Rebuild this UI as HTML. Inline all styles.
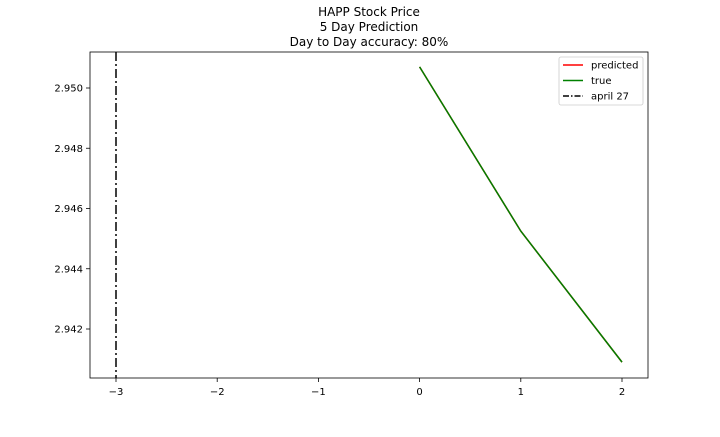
<!DOCTYPE html>
<html><head><meta charset="utf-8"><style>
body{margin:0;background:#fff;font-family:"Liberation Sans","DejaVu Sans",sans-serif;}
svg text{font-family:"DejaVu Sans","Liberation Sans",sans-serif;}
</style></head><body>
<svg id="chart" width="720" height="432">
<g font-size="12" text-anchor="middle" fill="#000">
<text x="369" y="16">HAPP Stock Price</text>
<text x="369" y="31">5 Day Prediction</text>
<text x="369" y="46">Day to Day accuracy: 80%</text>
</g>
<g id="plot"></g>
</svg>
<script>
const xTicks=[-3,-2,-1,0,1,2];
const yTicks=[2.942,2.944,2.946,2.948,2.950];
const days=[0,1,2];
const trueVals=[2.9507,2.94525,2.9409];
const predVals=[2.9507,2.94525,2.9409];
const markerDay=-3;
const L=90,R=648,T=52,B=378;
const X=v=>116+(v+3)*101.2;
const Y=v=>88+(2.950-v)*30125;
const ns="http://www.w3.org/2000/svg";
const g=document.getElementById('plot');
function mk(t,a){const e=document.createElementNS(ns,t);for(const k in a)e.setAttribute(k,a[k]);g.appendChild(e);return e;}
xTicks.forEach(v=>{
 const l=mk('line',{x1:X(v),x2:X(v),y1:B,y2:B+4,stroke:'#000','stroke-width':0.8});
 
 
 const t=mk('text',{x:X(v),y:B+17,'font-size':10,'text-anchor':'middle'});t.textContent=v<0?'\u2212'+(-v):v;
 
 
});
yTicks.forEach(v=>{
 const l=mk('line',{x1:L-4,x2:L,y1:Y(v),y2:Y(v),stroke:'#000','stroke-width':0.8});
 
 
 const t=mk('text',{x:L-7,y:Y(v)+3.5,'font-size':10,'text-anchor':'end'});t.textContent=v.toFixed(3);
 
 
});
const pp=mk('polyline',{points:days.map((d,i)=>X(d)+','+Y(predVals[i])).join(' '),fill:'none',stroke:'red','stroke-width':1.5});


const tp=mk('polyline',{points:days.map((d,i)=>X(d)+','+Y(trueVals[i])).join(' '),fill:'none',stroke:'green','stroke-width':1.5});


const vl=mk('line',{x1:X(markerDay),x2:X(markerDay),y1:T,y2:B,stroke:'#000','stroke-width':1.5,'stroke-dasharray':'9,3,2,3'});


const fr=mk('rect',{x:L,y:T,width:R-L,height:B-T,fill:'none',stroke:'#000','stroke-width':0.8});


const lg=mk('rect',{x:559,y:57,width:84,height:48,rx:2,fill:'#fff',stroke:'#ccc','stroke-width':0.8});


[['predicted','red',null],['true','green',null],['april 27','#000','6,2,1.5,2']].forEach((e,i)=>{
 const y=65+i*15.5;
 const a={x1:563,x2:583,y1:y,y2:y,stroke:e[1],'stroke-width':1.5};if(e[2])a['stroke-dasharray']=e[2];
 const l=mk('line',a);
 
 
 const t=mk('text',{x:591,y:y+3.5,'font-size':10});t.textContent=e[0];
 
 
});
</script>
</body></html>
